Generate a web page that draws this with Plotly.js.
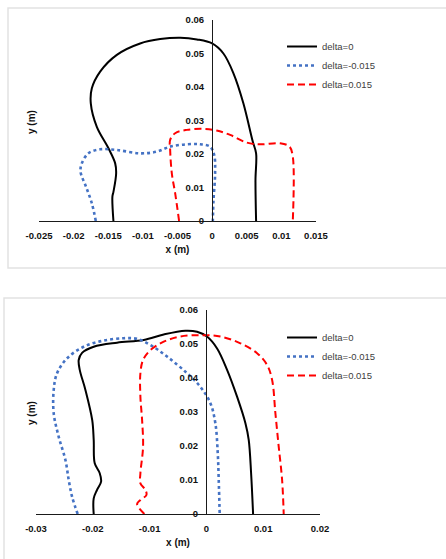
<!DOCTYPE html>
<html>
<head>
<meta charset="utf-8">
<script src="https://cdn.plot.ly/plotly-3.0.1.min.js"></script>
<style>
html,body{margin:0;padding:0;background:#fff;}
#chart{width:446px;height:559px;}
</style>
</head>
<body>
<div id="chart"></div>
<script>
// ---------- Top chart data ----------
const seriesNames = ["delta=0", "delta=-0.015", "delta=0.015"];

const topD0X = [-0.01425, -0.0144, -0.01425, -0.01386, -0.0140, -0.01497, -0.01665, -0.01752, -0.01737, -0.01617, -0.01376, -0.0104, -0.0075, -0.0046, -0.0022, 0.0, 0.00163, 0.00308, 0.00452, 0.00587, 0.00635, 0.00626, 0.00635];
const topD0Y = [0.0, 0.0073, 0.0087, 0.0142, 0.0172, 0.0217, 0.0281, 0.0351, 0.0396, 0.0446, 0.0496, 0.0530, 0.0543, 0.0547, 0.0542, 0.0530, 0.0500, 0.0441, 0.0351, 0.0237, 0.0202, 0.0122, 0.0];

const topDmX = [-0.0168, -0.01737, -0.0182, -0.0190, -0.01882, -0.01786, -0.01617, -0.01376, -0.0104, -0.0080, -0.00606, -0.00366, -0.00173, -0.0003, 0.0003, 0.00043, 0.0002, 0.0001];
const topDmY = [0.0, 0.0053, 0.0102, 0.0147, 0.0172, 0.0202, 0.0214, 0.0212, 0.0202, 0.0207, 0.0222, 0.0229, 0.0229, 0.0222, 0.0197, 0.0142, 0.0063, 0.0];

const topDpX = [-0.00477, -0.00534, -0.00582, -0.00606, -0.00606, -0.00534, -0.00366, -0.00125, 0.00067, 0.0026, 0.0050, 0.00693, 0.00982, 0.01117, 0.01165, 0.01165];
const topDpY = [0.0, 0.0083, 0.0142, 0.0212, 0.0242, 0.0262, 0.0272, 0.0275, 0.0270, 0.0257, 0.0234, 0.0229, 0.0232, 0.0222, 0.0192, 0.0];

// ---------- Bottom chart data ----------
const botD0X = [-0.01984, -0.01984, -0.01925, -0.01854, -0.01878, -0.01966, -0.01984, -0.0201, -0.0213, -0.0223, -0.02248, -0.02189, -0.01984, -0.01573, -0.01103, -0.00751, -0.0037, -0.00164, 0.0001, 0.00188, 0.00364, 0.0054, 0.00687, 0.00745, 0.00787, 0.00822];
const botD0Y = [0.0, 0.0046, 0.0071, 0.0095, 0.0120, 0.0149, 0.0218, 0.0276, 0.0365, 0.0424, 0.0453, 0.0474, 0.0492, 0.0504, 0.0512, 0.0528, 0.0539, 0.0536, 0.0522, 0.0487, 0.0424, 0.0345, 0.0267, 0.0218, 0.0120, 0.0];

const botDmX = [-0.02266, -0.02365, -0.02424, -0.02482, -0.0260, -0.02688, -0.02688, -0.02629, -0.02452, -0.0216, -0.01808, -0.01456, -0.0122, -0.00986, -0.00692, -0.0034, -0.00106, 0.0007, 0.00158, 0.0020, 0.00217, 0.00234];
const botDmY = [0.0, 0.0051, 0.0100, 0.0159, 0.0227, 0.0296, 0.0365, 0.0414, 0.0458, 0.0492, 0.0510, 0.0517, 0.0515, 0.0497, 0.0463, 0.0414, 0.0374, 0.0326, 0.0267, 0.0178, 0.0100, 0.0];

const botDpX = [-0.01092, -0.0122, -0.01162, -0.01056, -0.01074, -0.01162, -0.01162, -0.01115, -0.01132, -0.01162, -0.01162, -0.01115, -0.00986, -0.00751, -0.00458, -0.00106, 0.00246, 0.00599, 0.00892, 0.01069, 0.01157, 0.01215, 0.01273, 0.01333, 0.01361];
const botDpY = [0.0, 0.0029, 0.0041, 0.0056, 0.0071, 0.0090, 0.0120, 0.0198, 0.0276, 0.0345, 0.0414, 0.0453, 0.0482, 0.0507, 0.0522, 0.0526, 0.0522, 0.0502, 0.0473, 0.0438, 0.0394, 0.0296, 0.0198, 0.0100, 0.0];

// ---------- Tick labels ----------
const topXTickVals = [-0.025, -0.02, -0.015, -0.01, -0.005, 0, 0.005, 0.01, 0.015];
const topXTickText = ["-0.025", "-0.02", "-0.015", "-0.01", "-0.005", "0", "0.005", "0.01", "0.015"];
const botXTickVals = [-0.03, -0.02, -0.01, 0, 0.01, 0.02];
const botXTickText = ["-0.03", "-0.02", "-0.01", "0", "0.01", "0.02"];
const yTickVals = [0, 0.01, 0.02, 0.03, 0.04, 0.05, 0.06];
const yTickText = ["0", "0.01", "0.02", "0.03", "0.04", "0.05", "0.06"];

const W = 446, H = 559;
const px = v => v / W;
const py = v => 1 - v / H;

const styles = [
  {color: "#000000", width: 2, dash: "solid"},
  {color: "#4472C4", width: 2.6, dash: "dot"},
  {color: "#FF0000", width: 2, dash: "7px,4px"}
];

function tr(x, y, i, xa, ya, lg) {
  return {
    x: x, y: y, name: seriesNames[i], type: "scatter", mode: "lines",
    xaxis: xa, yaxis: ya, legend: lg,
    line: {color: styles[i].color, width: styles[i].width, dash: styles[i].dash, shape: "spline", smoothing: 1}
  };
}

const data = [
  tr(topD0X, topD0Y, 0, "x", "y", "legend"),
  tr(topDmX, topDmY, 1, "x", "y", "legend"),
  tr(topDpX, topDpY, 2, "x", "y", "legend"),
  tr(botD0X, botD0Y, 0, "x2", "y2", "legend2"),
  tr(botDmX, botDmY, 1, "x2", "y2", "legend2"),
  tr(botDpX, botDpY, 2, "x2", "y2", "legend2")
];

const tickFont = {family: "Liberation Sans, Arial, sans-serif", size: 9.5, color: "#111", weight: "bold"};
const titleFont = {family: "Liberation Sans, Arial, sans-serif", size: 10, color: "#111", weight: "bold"};
const legFont = {family: "Liberation Sans, Arial, sans-serif", size: 9.5, color: "#404040"};

const xCommon = {
  showgrid: false, zeroline: false, showline: true, linecolor: "#1a1a1a", linewidth: 1.4,
  ticks: "", tickmode: "array", tickfont: tickFont, fixedrange: true, ticklabelstandoff: 5
};
const yCommon = {
  showgrid: false, zeroline: false, showline: true, linecolor: "#1a1a1a", linewidth: 1.4,
  ticks: "", tickmode: "array", tickvals: yTickVals, ticktext: yTickText, tickfont: tickFont,
  range: [0, 0.06], anchor: "free", ticklabelstandoff: 6
};

const layout = {
  width: W, height: H,
  margin: {l: 0, r: 0, t: 0, b: 0},
  paper_bgcolor: "#ffffff", plot_bgcolor: "rgba(0,0,0,0)",
  showlegend: true,
  xaxis: Object.assign({}, xCommon, {
    domain: [px(39), px(316)], range: [-0.025, 0.015], anchor: "y",
    tickvals: topXTickVals, ticktext: topXTickText,
    title: {text: "x (m)", font: titleFont, standoff: 6}
  }),
  yaxis: Object.assign({}, yCommon, {
    domain: [py(221), py(20)], position: px(212)
  }),
  xaxis2: Object.assign({}, xCommon, {
    domain: [px(36), px(320)], range: [-0.03, 0.02], anchor: "y2",
    tickvals: botXTickVals, ticktext: botXTickText,
    title: {text: "x (m)", font: titleFont, standoff: 6}
  }),
  yaxis2: Object.assign({}, yCommon, {
    domain: [py(514), py(310)], position: px(206)
  }),
  legend: {x: px(282), y: py(32), xanchor: "left", yanchor: "top", bgcolor: "rgba(0,0,0,0)", font: legFont, itemwidth: 30},
  legend2: {x: px(282), y: py(323), xanchor: "left", yanchor: "top", bgcolor: "rgba(0,0,0,0)", font: legFont, itemwidth: 30},
  annotations: [
    {text: "y (m)", xref: "paper", yref: "paper", x: px(32), y: py(122), textangle: -90, showarrow: false, font: titleFont, xanchor: "center", yanchor: "middle"},
    {text: "y (m)", xref: "paper", yref: "paper", x: px(31), y: py(413), textangle: -90, showarrow: false, font: titleFont, xanchor: "center", yanchor: "middle"}
  ],
  shapes: [
    {type: "rect", xref: "paper", yref: "paper", x0: px(8), x1: 1.02, y0: py(268), y1: py(8), line: {color: "#e2e2e2", width: 1.5}, layer: "below"},
    {type: "rect", xref: "paper", yref: "paper", x0: px(4), x1: 1.02, y0: -0.02, y1: py(298), line: {color: "#e2e2e2", width: 1.5}, layer: "below"}
  ]
};

Plotly.newPlot("chart", data, layout, {displayModeBar: false, staticPlot: true});
</script>
</body>
</html>
